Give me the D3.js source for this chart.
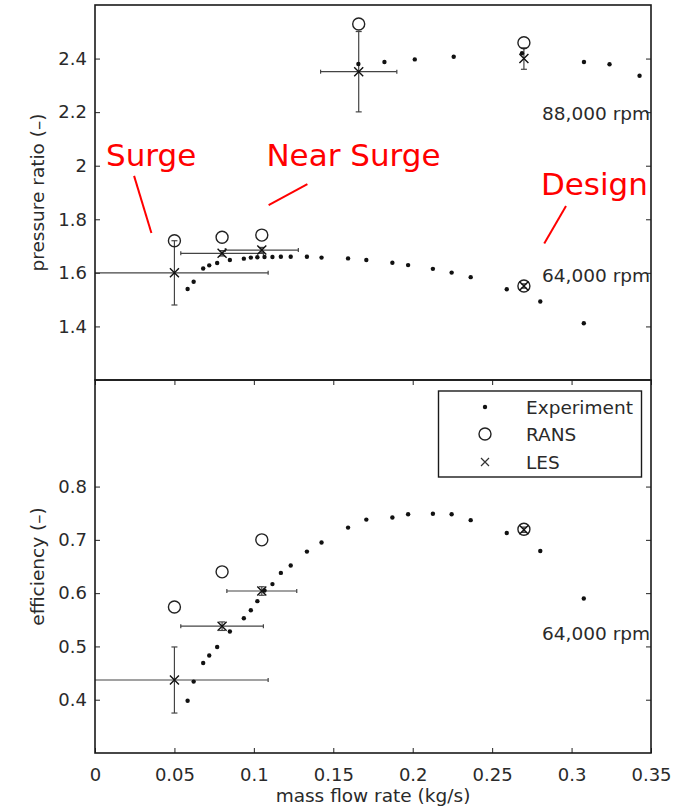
<!DOCTYPE html>
<html>
<head>
<meta charset="utf-8">
<script src="https://cdn.jsdelivr.net/npm/d3@7"></script>
<style>
  body { margin: 0; background: #fff; }
  svg { display: block; }
</style>
</head>
<body>
<svg id="chart" width="683" height="812"></svg>
<script>
// ---- Experiment, 64,000 rpm speed line ----
const expFlow64 = [0.0583, 0.0621, 0.0681, 0.0719, 0.0769, 0.0849, 0.0937, 0.0981, 0.1022, 0.1067,
                   0.1117, 0.1170, 0.1232, 0.1334, 0.1426, 0.1593, 0.1708, 0.1872, 0.1971, 0.2127,
                   0.2245, 0.2365, 0.2592, 0.2803, 0.3077];
const expPR64   = [1.540, 1.567, 1.616, 1.628, 1.637, 1.648, 1.653, 1.657, 1.658, 1.659,
                   1.659, 1.660, 1.660, 1.660, 1.657, 1.654, 1.648, 1.638, 1.629, 1.615,
                   1.601, 1.584, 1.539, 1.493, 1.412];
const expEff64  = [0.398, 0.434, 0.469, 0.483, 0.499, 0.528, 0.553, 0.568, 0.585, 0.605,
                   0.617, 0.638, 0.652, 0.678, 0.695, 0.723, 0.738, 0.742, 0.748, 0.749,
                   0.748, 0.737, 0.713, 0.679, 0.590];

// ---- Experiment, 88,000 rpm speed line ----
const expFlow88 = [0.1658, 0.1822, 0.2013, 0.2258, 0.2688, 0.3078, 0.3239, 0.3428];
const expPR88   = [2.380, 2.387, 2.397, 2.407, 2.420, 2.387, 2.379, 2.336];

// ---- CFD operating points: pressure ratio ----
const cfdFlowPR   = [0.050, 0.080, 0.105, 0.166, 0.270, 0.270];
const ransPR      = [1.720, 1.733, 1.741, 2.529, 2.459, 1.551];
const lesPR       = [1.600, 1.673, 1.685, 2.351, 2.400, 1.551];
const lesPRErr    = [0.120, 0.010, 0.010, 0.150, 0.040, 0.008];
const lesFlowErrPR = [0.059, 0.026, 0.023, 0.024, 0.000, 0.000];

// ---- CFD operating points: efficiency (64,000 rpm) ----
const cfdFlowEff   = [0.050, 0.080, 0.105, 0.270];
const ransEff      = [0.574, 0.640, 0.700, 0.720];
const lesEff       = [0.437, 0.538, 0.604, 0.719];
const lesEffErr    = [0.062, 0.008, 0.008, 0.005];
const lesFlowErrEff = [0.059, 0.026, 0.022, 0.000];

// ---- Axes ----
const xTicks = [0, 0.05, 0.1, 0.15, 0.2, 0.25, 0.3, 0.35];
const xTickLabels = ["0", "0.05", "0.1", "0.15", "0.2", "0.25", "0.3", "0.35"];
const prTicks = [1.4, 1.6, 1.8, 2.0, 2.2, 2.4];
const prTickLabels = ["1.4", "1.6", "1.8", "2", "2.2", "2.4"];
const effTicks = [0.4, 0.5, 0.6, 0.7, 0.8];
const effTickLabels = ["0.4", "0.5", "0.6", "0.7", "0.8"];

const legendLabels = ["Experiment", "RANS", "LES"];
const speedLabels = ["88,000 rpm", "64,000 rpm"];
const annotationLabels = ["Surge", "Near Surge", "Design"];

// ---- Layout ----
const FONT = "'DejaVu Sans', sans-serif";
const TEXT_COL = "#2a2a2a";
const LEFT = 95, RIGHT = 651;
const TOP1 = 5, BOT1 = 380, TOP2 = 380, BOT2 = 753;

const svg = d3.select("#chart");

const x = d3.scaleLinear().domain([0, 0.35]).range([LEFT, RIGHT]);
const yPR = d3.scaleLinear().domain([1.2, 2.6]).range([BOT1, TOP1]);
const yEff = d3.scaleLinear().domain([0.3, 1.0]).range([BOT2, TOP2]);

const defs = svg.append("defs");
function clipFor(id, top, bottom) {
  defs.append("clipPath").attr("id", id)
    .append("rect").attr("x", LEFT).attr("y", top)
    .attr("width", RIGHT - LEFT).attr("height", bottom - top);
  return `url(#${id})`;
}

function yAxes(g, y, ticks, labels) {
  g.append("g").attr("transform", `translate(${LEFT},0)`)
    .call(d3.axisLeft(y).tickValues(ticks).tickSize(-5).tickPadding(8)
      .tickFormat((d, i) => labels[i]))
    .call(a => a.select(".domain").remove())
    .call(a => a.selectAll("line").attr("stroke", "#222"))
    .call(a => a.selectAll("text").attr("fill", TEXT_COL)
      .style("font-family", FONT).style("font-size", "18px"));
  g.append("g").attr("transform", `translate(${RIGHT},0)`)
    .call(d3.axisRight(y).tickValues(ticks).tickSize(-5).tickFormat(""))
    .call(a => a.select(".domain").remove())
    .call(a => a.selectAll("line").attr("stroke", "#222"));
}

function frame(g, top, bottom) {
  g.append("rect").attr("x", LEFT).attr("y", top)
    .attr("width", RIGHT - LEFT).attr("height", bottom - top)
    .attr("fill", "none").attr("stroke", "#1a1a1a").attr("stroke-width", 1.6);
}

function errorBars(g, y, flows, vals, yErr, xErr) {
  const cap = 3;
  const eb = g.append("g").attr("stroke", "#444").attr("stroke-width", 1.2).attr("fill", "none");
  flows.forEach((f, i) => {
    const cx = x(f), cy = y(vals[i]);
    if (yErr[i] > 0) {
      const y0 = y(vals[i] - yErr[i]), y1 = y(vals[i] + yErr[i]);
      eb.append("line").attr("x1", cx).attr("x2", cx).attr("y1", y0).attr("y2", y1);
      eb.append("line").attr("x1", cx - cap).attr("x2", cx + cap).attr("y1", y0).attr("y2", y0);
      eb.append("line").attr("x1", cx - cap).attr("x2", cx + cap).attr("y1", y1).attr("y2", y1);
    }
    if (xErr[i] > 0) {
      const x0 = x(f - xErr[i]), x1 = x(f + xErr[i]);
      eb.append("line").attr("x1", x0).attr("x2", x1).attr("y1", cy).attr("y2", cy);
      eb.append("line").attr("x1", x0).attr("x2", x0).attr("y1", cy - 2).attr("y2", cy + 2);
      eb.append("line").attr("x1", x1).attr("x2", x1).attr("y1", cy - 2).attr("y2", cy + 2);
    }
  });
}

function dots(g, y, flows, vals) {
  g.append("g").selectAll("circle").data(flows).join("circle")
    .attr("cx", d => x(d)).attr("cy", (d, i) => y(vals[i]))
    .attr("r", 2.2).attr("fill", "#111");
}

function rings(g, y, flows, vals) {
  g.append("g").selectAll("circle").data(flows).join("circle")
    .attr("cx", d => x(d)).attr("cy", (d, i) => y(vals[i]))
    .attr("r", 6).attr("fill", "none").attr("stroke", "#222").attr("stroke-width", 1.4);
}

function crosses(g, y, flows, vals) {
  const s = 4.5;
  g.append("g").selectAll("path").data(flows).join("path")
    .attr("d", (d, i) => {
      const cx = x(d), cy = y(vals[i]);
      return `M${cx - s},${cy - s}L${cx + s},${cy + s}M${cx - s},${cy + s}L${cx + s},${cy - s}`;
    })
    .attr("stroke", "#111").attr("stroke-width", 1.4).attr("fill", "none");
}

// ================= Pressure ratio panel =================
const gTop = svg.append("g");
yAxes(gTop, yPR, prTicks, prTickLabels);

const plotTop = gTop.append("g").attr("clip-path", clipFor("clipTop", TOP1, BOT1));
errorBars(plotTop, yPR, cfdFlowPR, lesPR, lesPRErr, lesFlowErrPR);
dots(plotTop, yPR, expFlow64, expPR64);
dots(plotTop, yPR, expFlow88, expPR88);
rings(plotTop, yPR, cfdFlowPR, ransPR);
crosses(plotTop, yPR, cfdFlowPR, lesPR);

// speed-line labels
gTop.append("text").attr("x", 650).attr("y", 120).attr("text-anchor", "end")
  .style("font-family", FONT).style("font-size", "18.5px").attr("fill", TEXT_COL)
  .text(speedLabels[0]);
gTop.append("text").attr("x", 650).attr("y", 282).attr("text-anchor", "end")
  .style("font-family", FONT).style("font-size", "18.5px").attr("fill", TEXT_COL)
  .text(speedLabels[1]);

// red callouts (placed in data coordinates)
const callouts = [
  { tx: 0.0069, ty: 2.000, lx: [0.0246, 0.0355], ly: [1.962, 1.749] },
  { tx: 0.1079, ty: 2.000, lx: [0.1337, 0.1093], ly: [1.931, 1.853] },
  { tx: 0.2807, ty: 1.890, lx: [0.2965, 0.2828], ly: [1.850, 1.710] }
];
callouts.forEach((c, i) => {
  gTop.append("text").attr("x", x(c.tx)).attr("y", yPR(c.ty))
    .style("font-family", FONT).style("font-size", "31px").attr("fill", "#ff0000")
    .text(annotationLabels[i]);
  gTop.append("line")
    .attr("x1", x(c.lx[0])).attr("y1", yPR(c.ly[0]))
    .attr("x2", x(c.lx[1])).attr("y2", yPR(c.ly[1]))
    .attr("stroke", "#ff0000").attr("stroke-width", 2);
});

gTop.append("text")
  .attr("transform", `translate(44,${(TOP1 + BOT1) / 2}) rotate(-90)`)
  .attr("text-anchor", "middle")
  .style("font-family", FONT).style("font-size", "18.5px").attr("fill", TEXT_COL)
  .text("pressure ratio (–)");

frame(gTop, TOP1, BOT1);

// ================= Efficiency panel =================
const gBot = svg.append("g");
yAxes(gBot, yEff, effTicks, effTickLabels);

gBot.append("g").attr("transform", `translate(0,${BOT2})`)
  .call(d3.axisBottom(x).tickValues(xTicks).tickSize(-5).tickPadding(15)
    .tickFormat((d, i) => xTickLabels[i]))
  .call(a => a.select(".domain").remove())
  .call(a => a.selectAll("line").attr("stroke", "#222"))
  .call(a => a.selectAll("text").attr("fill", TEXT_COL)
    .style("font-family", FONT).style("font-size", "18px"));
gBot.append("g").attr("transform", `translate(0,${TOP2})`)
  .call(d3.axisTop(x).tickValues(xTicks).tickSize(-5).tickFormat(""))
  .call(a => a.select(".domain").remove())
  .call(a => a.selectAll("line").attr("stroke", "#222"));

const plotBot = gBot.append("g").attr("clip-path", clipFor("clipBot", TOP2, BOT2));
errorBars(plotBot, yEff, cfdFlowEff, lesEff, lesEffErr, lesFlowErrEff);
dots(plotBot, yEff, expFlow64, expEff64);
rings(plotBot, yEff, cfdFlowEff, ransEff);
crosses(plotBot, yEff, cfdFlowEff, lesEff);

gBot.append("text").attr("x", 650).attr("y", 640).attr("text-anchor", "end")
  .style("font-family", FONT).style("font-size", "18.5px").attr("fill", TEXT_COL)
  .text(speedLabels[1]);

gBot.append("text")
  .attr("transform", `translate(44,${(TOP2 + BOT2) / 2}) rotate(-90)`)
  .attr("text-anchor", "middle")
  .style("font-family", FONT).style("font-size", "18.5px").attr("fill", TEXT_COL)
  .text("efficiency (–)");

gBot.append("text").attr("x", (LEFT + RIGHT) / 2).attr("y", 802)
  .attr("text-anchor", "middle")
  .style("font-family", FONT).style("font-size", "18.5px").attr("fill", TEXT_COL)
  .text("mass flow rate (kg/s)");

frame(gBot, TOP2, BOT2);

// ---- Legend ----
const leg = gBot.append("g");
leg.append("rect").attr("x", 438.5).attr("y", 391).attr("width", 203).attr("height", 86)
  .attr("fill", "#fff").attr("stroke", "#1a1a1a").attr("stroke-width", 1.4);
const rowY = [407, 434, 462];
const mx = 485, tx = 526;
leg.append("circle").attr("cx", mx).attr("cy", rowY[0]).attr("r", 2.2).attr("fill", "#111");
leg.append("circle").attr("cx", mx).attr("cy", rowY[1]).attr("r", 6)
  .attr("fill", "none").attr("stroke", "#222").attr("stroke-width", 1.4);
leg.append("path")
  .attr("d", `M${mx - 4},${rowY[2] - 4}L${mx + 4},${rowY[2] + 4}M${mx - 4},${rowY[2] + 4}L${mx + 4},${rowY[2] - 4}`)
  .attr("stroke", "#333").attr("stroke-width", 1.2);
legendLabels.forEach((t, i) => {
  leg.append("text").attr("x", tx).attr("y", rowY[i]).attr("dy", "0.36em")
    .style("font-family", FONT).style("font-size", "18.5px").attr("fill", TEXT_COL)
    .text(t);
});
</script>
</body>
</html>
